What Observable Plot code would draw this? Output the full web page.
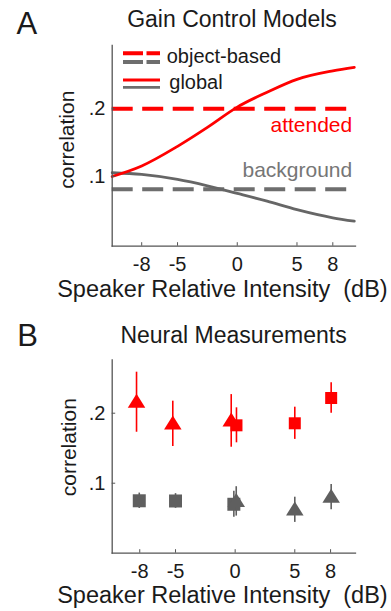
<!DOCTYPE html>
<html>
<head>
<meta charset="utf-8">
<script src="https://cdn.jsdelivr.net/npm/d3@7"></script>
<script src="https://cdn.jsdelivr.net/npm/@observablehq/plot@0.6"></script>
<style>
  body { margin: 0; background: #fff; }
  #wrap { position: relative; width: 391px; height: 611px; overflow: hidden; }
  #wrap svg { display: block; }
  #legend { position: absolute; left: 0; top: 0; pointer-events: none; }
</style>
</head>
<body>
<div id="wrap"></div>
<script>
// ---------- data ----------
const titleA = "Gain Control Models";
const titleB = "Neural Measurements";
const xLabel = "Speaker Relative Intensity\u00a0\u00a0(dB)";
const yLabel = "correlation";
const xTicks = [-8, -5, 0, 5, 8];
const yTicks = [0.1, 0.2];

// Panel A: model curves (global gain control)
const globalX = [-10.47, -8, -5, -2.5, 0, 2.5, 5, 8, 9.8];
const globalAttended = [0.100, 0.1155, 0.1445, 0.1725, 0.2025, 0.2245, 0.2435, 0.2560, 0.2612];
const globalBackground = [0.1055, 0.103, 0.0956, 0.0862, 0.0750, 0.0635, 0.0510, 0.0390, 0.0340];
// Panel A: object-based model levels
const objAttended = 0.2;
const objBackground = 0.081;

// Panel B: neural measurements (x, mean, error)
const redTriX = [-8.27, -5.23, -0.33];
const redTriY = [0.2157, 0.1848, 0.189];
const redTriE = [0.0429, 0.0324, 0.0376];
const redSqX = [0.11, 5.0, 8.05];
const redSqY = [0.1827, 0.1856, 0.2217];
const redSqE = [0.025, 0.023, 0.0217];
const graySqX = [-8.04, -5.0, -0.11];
const graySqY = [0.0749, 0.0746, 0.0699];
const graySqE = [0.011, 0.0105, 0.0185];
const grayTriX = [0.09, 5.0, 8.05];
const grayTriY = [0.074, 0.062, 0.080];
const grayTriE = [0.021, 0.018, 0.018];

// ---------- styles ----------
const RED = "#ff0000";
const GRAY = "#666666";
const MGRAY = "#5f5f5f";
const AXIS = "#555555";
const INK = "#1a1a1a";
const FONT = "'Liberation Sans', Arial, Helvetica, sans-serif";

const zip = (xs, ys, es) => xs.map((x, i) => ({x, y: ys[i], e: es ? es[i] : 0}));
const fmtY = d => d.toFixed(1).replace(/^0/, "");

function triangle(w, h) {
  return {draw(ctx) {
    ctx.moveTo(0, -0.6 * h);
    ctx.lineTo(w / 2, 0.4 * h);
    ctx.lineTo(-w / 2, 0.4 * h);
    ctx.closePath();
  }};
}
function square(s) {
  return {draw(ctx) {
    ctx.moveTo(-s / 2, -s / 2);
    ctx.lineTo(s / 2, -s / 2);
    ctx.lineTo(s / 2, s / 2);
    ctx.lineTo(-s / 2, s / 2);
    ctx.closePath();
  }};
}

function commonAxes(frameH, opts) {
  return [
    Plot.frame({anchor: "left", stroke: AXIS, strokeWidth: 1.3}),
    Plot.frame({anchor: "bottom", stroke: AXIS, strokeWidth: 1.3}),
    Plot.axisX({ticks: xTicks, tickFormat: d => String(d).replace("-", "-"), tickSize: -3.5, tickPadding: 13.6,
      fontSize: 20, fill: INK, stroke: AXIS, label: null}),
    Plot.axisY({ticks: yTicks, tickFormat: fmtY, tickSize: -3.5, tickPadding: 10.2,
      fontSize: 20, fill: INK, stroke: AXIS, label: null}),
    Plot.text([yLabel], {frameAnchor: "left", text: d => d, rotate: -90, textAnchor: "middle",
      lineAnchor: "bottom", dx: opts.ylDx, dy: opts.ylDy, fontSize: 21, fill: INK}),
    Plot.text([xLabel], {frameAnchor: "bottom-left", text: d => d, textAnchor: "start",
      lineAnchor: "bottom", dx: -55, dy: opts.xlDy, fontSize: 23.5, fill: INK}),
    Plot.text([opts.title], {frameAnchor: "top", text: d => d, textAnchor: "middle",
      lineAnchor: "bottom", dx: opts.tDx, dy: opts.tDy, fontSize: 23, fill: INK}),
    Plot.text([opts.letter], {frameAnchor: "top-left", text: d => d, textAnchor: "start",
      lineAnchor: "bottom", dx: opts.lDx, dy: opts.lDy, fontSize: 31, fill: INK})
  ];
}

// ---------- Panel A ----------
const dataAtt = zip(globalX, globalAttended);
const dataBg = zip(globalX, globalBackground);

const panelA = Plot.plot({
  width: 391, height: 300,
  marginLeft: 111.7, marginRight: 36, marginTop: 45, marginBottom: 54.3,
  x: {domain: [-10.47, 9.9]},
  y: {domain: [-0.003, 0.2935]},
  style: {fontFamily: FONT, overflow: "visible", background: "transparent"},
  marks: [
    Plot.ruleY([objAttended], {stroke: RED, strokeWidth: 4, strokeDasharray: "21,9.5"}),
    Plot.ruleY([objBackground], {stroke: "#6e6e6e", strokeWidth: 4, strokeDasharray: "21,9.5"}),
    Plot.line(dataBg, {x: "x", y: "y", stroke: GRAY, strokeWidth: 2.8, curve: "monotone-x"}),
    Plot.line(dataAtt, {x: "x", y: "y", stroke: RED, strokeWidth: 2.8, curve: "monotone-x"}),
    Plot.text([objAttended], {y: d => d, frameAnchor: "right", text: () => "attended", textAnchor: "end",
      lineAnchor: "bottom", dx: -3.3, dy: 23.4, fontSize: 21, fill: RED}),
    Plot.text([objBackground], {y: d => d, frameAnchor: "right", text: () => "background", textAnchor: "end",
      lineAnchor: "bottom", dx: -3.3, dy: -12.3, fontSize: 21, fill: "#767676"}),
    ...commonAxes(200.7, {title: titleA, letter: "A", tDx: -1.85, tDy: -18.3, lDx: -95.7, lDy: -11.7,
      ylDx: -38.4, ylDy: -6.2, xlDy: 51})
  ]
});

// ---------- Panel B ----------
const rTri = zip(redTriX, redTriY, redTriE);
const rSq = zip(redSqX, redSqY, redSqE);
const gSq = zip(graySqX, graySqY, graySqE);
const gTri = zip(grayTriX, grayTriY, grayTriE);
const errBars = (data, color) => Plot.ruleX(data, {x: "x", y1: d => d.y - d.e, y2: d => d.y + d.e,
  stroke: color, strokeWidth: 1.6});

const panelB = Plot.plot({
  width: 391, height: 311,
  marginLeft: 111.7, marginRight: 36, marginTop: 59.3, marginBottom: 58.3,
  x: {domain: [-10.31, 10.09]},
  y: {domain: [0, 0.2763]},
  style: {fontFamily: FONT, overflow: "visible", background: "transparent"},
  marks: [
    errBars(gSq, MGRAY),
    Plot.dot(gSq, {x: "x", y: "y", symbol: square(13), fill: MGRAY, stroke: "none", r: 6}),
    errBars(gTri, MGRAY),
    Plot.dot(gTri, {x: "x", y: "y", symbol: triangle(17.5, 14), fill: MGRAY, stroke: "none", r: 7}),
    errBars(rTri, RED),
    Plot.dot(rTri, {x: "x", y: "y", symbol: triangle(17.5, 14), fill: RED, stroke: "none", r: 7}),
    errBars(rSq, RED),
    Plot.dot(rSq, {x: "x", y: "y", symbol: square(12), fill: RED, stroke: "none", r: 6}),
    ...commonAxes(193.4, {title: titleB, letter: "B", tDx: -0.35, tDy: -16.6, lDx: -95, lDy: -14.3,
      ylDx: -36.7, ylDy: -9.3, xlDy: 50})
  ]
});

const wrap = document.getElementById("wrap");
wrap.appendChild(panelA);
wrap.appendChild(panelB);

// ---------- Legend for panel A ----------
const legendRows = [
  {label: "object-based", dash: "20,3.5", width: 4, yRed: 53.3, yGray: 62, tx: 166.7, ty: 62.5},
  {label: "global", dash: null, width: 2.8, yRed: 80, yGray: 87.3, tx: 169.3, ty: 89.3}
];
const NS = "http://www.w3.org/2000/svg";
const leg = document.createElementNS(NS, "svg");
leg.setAttribute("id", "legend");
leg.setAttribute("width", 391);
leg.setAttribute("height", 100);
for (const row of legendRows) {
  for (const [y, c] of [[row.yRed, RED], [row.yGray, "#6e6e6e"]]) {
    const ln = document.createElementNS(NS, "line");
    ln.setAttribute("x1", 123); ln.setAttribute("x2", 160);
    ln.setAttribute("y1", y); ln.setAttribute("y2", y);
    ln.setAttribute("stroke", c); ln.setAttribute("stroke-width", row.width);
    if (row.dash) ln.setAttribute("stroke-dasharray", row.dash);
    leg.appendChild(ln);
  }
  const t = document.createElementNS(NS, "text");
  t.setAttribute("x", row.tx); t.setAttribute("y", row.ty);
  t.setAttribute("font-family", FONT); t.setAttribute("font-size", 20);
  t.setAttribute("fill", INK);
  t.textContent = row.label;
  leg.appendChild(t);
}
wrap.appendChild(leg);
</script>
</body>
</html>
